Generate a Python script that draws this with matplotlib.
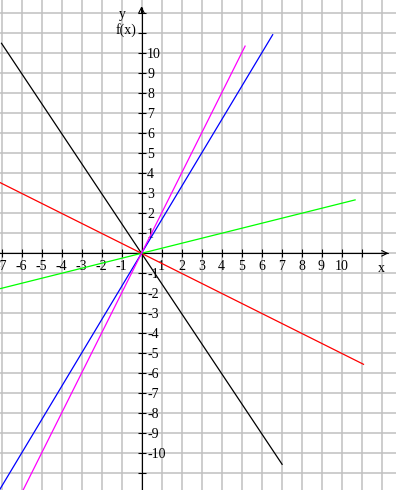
import matplotlib
matplotlib.use('Agg')
import matplotlib.pyplot as plt

# Endpunkte der fünf Geraden
black_x = [-7.0, 7.03]
black_y = [10.5, -10.55]
red_x = [-7.1, 11.1]
red_y = [3.55, -5.55]
green_x = [-7.1, 10.68]
green_y = [-1.775, 2.67]
blue_x = [-7.2, 6.56]
blue_y = [-12.0, 10.93]
magenta_x = [-6.0, 5.18]
magenta_y = [-12.0, 10.36]

lines = [
    (black_x, black_y, '#000000'),
    (red_x, red_y, '#ff0000'),
    (green_x, green_y, '#00ff00'),
    (blue_x, blue_y, '#0000ff'),
    (magenta_x, magenta_y, '#ff00ff'),
]

# Achsenbeschriftung
xticks = list(range(-7, 12))
xlabels = [str(v) if -7 <= v <= 10 and v != 0 else '' for v in xticks]
yticks = list(range(-11, 13))
ylabels = [str(v) if -10 <= v <= 10 and v != 0 else '' for v in yticks]
grid_x = list(range(-7, 13))
grid_y = list(range(-11, 13))

plt.rcParams['font.family'] = ['Liberation Serif', 'DejaVu Serif']
plt.rcParams['font.size'] = 10

fig = plt.figure(figsize=(3.96, 4.90), dpi=100)
ax = fig.add_axes([0, 0, 1, 1])
ax.set_xlim(-141.5 / 20, (396 - 141.5) / 20)
ax.set_ylim(-(490 - 253.3) / 20, 253.3 / 20)

# Gitter
for gx in grid_x:
    ax.axvline(gx, color='#c0c0c0', lw=1.1, zorder=0)
for gy in grid_y:
    ax.axhline(gy, color='#c0c0c0', lw=1.1, zorder=0)

# Achsen
ax.spines['top'].set_visible(False)
ax.spines['left'].set_visible(False)
ax.spines['bottom'].set_position(('data', 0))
ax.spines['right'].set_position(('data', 0))
for s in ['bottom', 'right']:
    ax.spines[s].set_linestyle((0, (1, 1)))
    ax.spines[s].set_linewidth(0.8)
    ax.spines[s].set_zorder(3)
ax.spines['bottom'].set_bounds(-7.1, 12.3)
ax.spines['right'].set_bounds(-11.9, 12.3)

ax.yaxis.tick_right()
ax.set_xticks(xticks)
ax.set_xticklabels(xlabels)
ax.set_yticks(yticks)
ax.set_yticklabels(ylabels)
ax.tick_params(axis='x', direction='inout', length=6, width=0.8, pad=2)
ax.tick_params(axis='y', direction='inout', length=6, width=0.8, pad=1)

# Pfeilspitzen
ax.annotate('', xy=(12.35, 0), xytext=(12.0, 0),
            arrowprops=dict(arrowstyle='->', lw=0.8, color='black', shrinkA=0, shrinkB=0))
ax.annotate('', xy=(0, 12.35), xytext=(0, 12.0),
            arrowprops=dict(arrowstyle='->', lw=0.8, color='black', shrinkA=0, shrinkB=0))

ax.text(11.98, -0.75, 'x', ha='center', va='center')
ax.text(-0.98, 11.95, 'y', ha='center', va='center')
ax.text(-0.78, 11.15, 'f(x)', ha='center', va='center')

for xs, ys, c in lines:
    ax.plot(xs, ys, color=c, lw=0.9, zorder=4)

fig.savefig('out.png', dpi=100)
